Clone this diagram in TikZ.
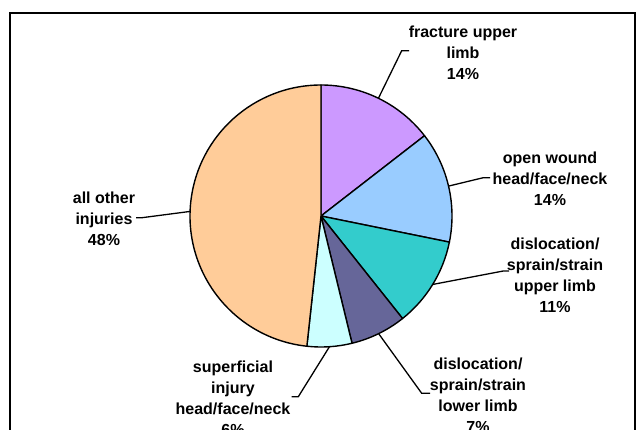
\documentclass[tikz,border=0pt]{standalone}
\usepackage{fontspec}
\setmainfont{Liberation Sans}
\usetikzlibrary{calc}
\definecolor{cPurple}{HTML}{CC99FF}
\definecolor{cBlue}{HTML}{99CCFF}
\definecolor{cTeal}{HTML}{33CCCC}
\definecolor{cDark}{HTML}{666699}
\definecolor{cCyan}{HTML}{CCFFFF}
\definecolor{cPeach}{HTML}{FFCC99}
\begin{document}
\begin{tikzpicture}[x=1pt,y=1pt,
  slice/.style={draw=black,line width=1.4pt,line join=round},
  leader/.style={draw=black,line width=1.3pt},
  lbl/.style={font=\fontsize{16}{21}\selectfont\bfseries,align=center,inner sep=0pt,anchor=base}]
\useasboundingbox (0,0) rectangle (644,-430);
\clip (0,0) rectangle (644,-430);
\fill[white] (0,0) rectangle (644,-430);
\draw[line width=2.2pt] (10,-13) rectangle (635,-460);
\coordinate (c) at (321,-216);
\def\R{131}
% slices
\fill[cPurple,slice] (c) -- ($(c)+(90:\R)$) arc[start angle=90,end angle=37.8,radius=\R] -- cycle;
\fill[cBlue,slice] (c) -- ($(c)+(37.8:\R)$) arc[start angle=37.8,end angle=-11.5,radius=\R] -- cycle;
\fill[cTeal,slice] (c) -- ($(c)+(-11.5:\R)$) arc[start angle=-11.5,end angle=-51.5,radius=\R] -- cycle;
\fill[cDark,slice] (c) -- ($(c)+(-51.5:\R)$) arc[start angle=-51.5,end angle=-76.3,radius=\R] -- cycle;
\fill[cCyan,slice] (c) -- ($(c)+(-76.3:\R)$) arc[start angle=-76.3,end angle=-96.2,radius=\R] -- cycle;
\fill[cPeach,slice] (c) -- ($(c)+(-96.2:\R)$) arc[start angle=-96.2,end angle=-270,radius=\R] -- cycle;
% labels (anchored at the baseline of their last line)
\node[lbl] (lFr) at (463,-80) {fracture upper\\limb\\14\%};
\node[lbl] (lOw) at (550,-206) {open wound\\head/face/neck\\14\%};
\node[lbl] (lDu) at (555,-312) {dislocation/\\sprain/strain\\upper limb\\11\%};
\node[lbl] (lDl) at (478,-432) {dislocation/\\sprain/strain\\lower limb\\7\%};
\node[lbl] (lSu) at (233,-435) {superficial\\injury\\head/face/neck\\6\%};
\node[lbl] (lAo) at (104,-245) {all other\\injuries\\48\%};
% leader coordinates
\coordinate (pFr) at ($(c)+(64:\R)$);
\coordinate (kFr) at (401.7,-50.7);
\coordinate (eFr) at (409,-50.7);
\coordinate (pOw) at ($(c)+(13.2:\R)$);
\coordinate (kOw) at (483.3,-177.7);
\coordinate (eOw) at (490,-177.7);
\coordinate (pDu) at ($(c)+(-31.5:\R)$);
\coordinate (kDu) at (503.3,-271);
\coordinate (eDu) at (509,-271);
\coordinate (pDl) at ($(c)+(-63.9:\R)$);
\coordinate (kDl) at (421.7,-393.3);
\coordinate (eDl) at (430,-393.3);
\coordinate (pSu) at ($(c)+(-86.3:\R)$);
\coordinate (kSu) at (298.3,-396.7);
\coordinate (eSu) at (291.7,-396.7);
\coordinate (pAo) at ($(c)+(178:\R)$);
\coordinate (kAo) at (142,-217.7);
\coordinate (eAo) at (136,-217.7);
\draw[leader] (pFr) -- (kFr) -- (eFr);
\draw[leader] (pOw) -- (kOw) -- (eOw);
\draw[leader] (pDu) -- (kDu) -- (eDu);
\draw[leader] (pDl) -- (kDl) -- (eDl);
\draw[leader] (pSu) -- (kSu) -- (eSu);
\draw[leader] (pAo) -- (kAo) -- (eAo);
\end{tikzpicture}
\end{document}
